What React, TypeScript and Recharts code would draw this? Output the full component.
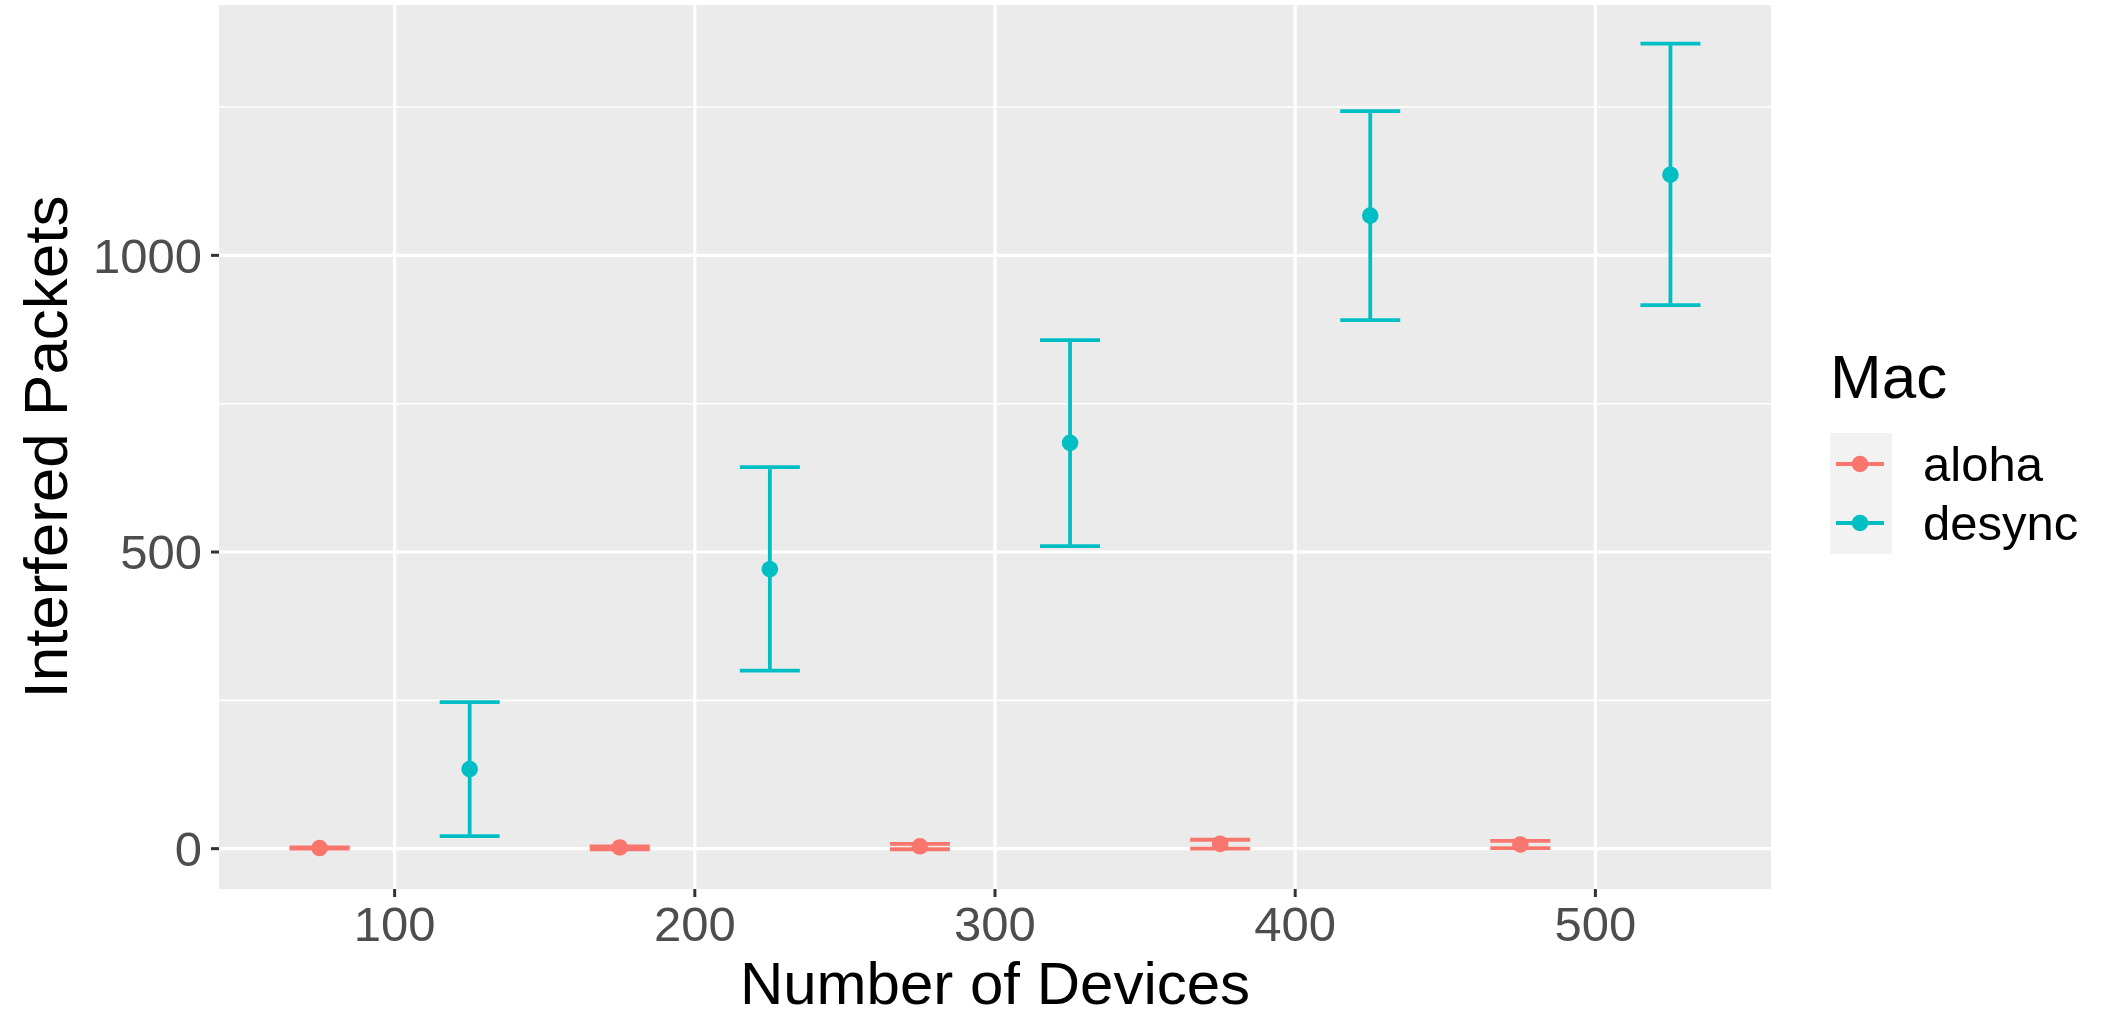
import React from 'react'
import { ComposedChart, Scatter, ErrorBar, XAxis, YAxis, CartesianGrid, Legend } from 'recharts'

const FONT = '"Liberation Sans", Arial, Helvetica, sans-serif'

// values
const alohaDevices = [75, 175, 275, 375, 475]
const alohaMean = [1, 2, 4, 8, 7]
const alohaLow = [0, -1, -1, 0, 1]
const alohaHigh = [2, 4, 8, 15, 13]

const desyncDevices = [125, 225, 325, 425, 525]
const desyncMean = [134, 471, 684, 1067, 1136]
const desyncLow = [21, 300, 510, 891, 916]
const desyncHigh = [247, 643, 857, 1243, 1357]

const xTicks = [100, 200, 300, 400, 500]
const xMinor = [150, 250, 350, 450]
const yTicks = [0, 500, 1000]
const yMinor = [250, 750, 1250]

const ALOHA = '#F8766D'
const DESYNC = '#00BFC4'

function buildRows(xs: number[], mean: number[], low: number[], high: number[]) {
    return xs.map((x, i) => ({ x, y: mean[i], err: [mean[i] - low[i], high[i] - mean[i]] }))
}

const alohaData = buildRows(alohaDevices, alohaMean, alohaLow, alohaHigh)
const desyncData = buildRows(desyncDevices, desyncMean, desyncLow, desyncHigh)

const Dot = (props: any) => <circle cx={props.cx} cy={props.cy} r={8.3} fill={props.fill}/>

function MacLegend(props: any) {
    const items = props.payload || []
    return (
        <svg width={288} height={260} style={{ display: 'block' }}>
            <text x={10} y={68} fontSize={62} fontFamily={FONT} fill="#000">Mac</text>
            <rect x={10} y={103} width={62} height={121} fill="#F2F2F2"/>
            {items.map((it: any, i: number) => {
                const cy = 134 + i * 59
                return (
                    <g key={it.value}>
                        <line x1={16} x2={64} y1={cy} y2={cy} stroke={it.color} strokeWidth={3.8}/>
                        <circle cx={40} cy={cy} r={8.3} fill={it.color}/>
                        <text x={103} y={cy + 17} fontSize={49} fontFamily={FONT} fill="#000">{it.value}</text>
                    </g>
                )
            })}
        </svg>
    )
}

const tickStyle = { fill: '#4D4D4D', fontSize: 49, fontFamily: FONT }

export default function App() {
    return (
        <div style={{ position: 'absolute', left: 0, top: 0 }}>
            <ComposedChart width={2108} height={1017} margin={{ top: 5, right: 337, bottom: 0, left: 0 }}>
                <CartesianGrid fill="#EBEBEB" stroke="#FFFFFF" strokeWidth={1.6}
                    horizontalValues={yMinor} verticalValues={xMinor} vertical={false}/>
                <CartesianGrid fill="none" stroke="#FFFFFF" strokeWidth={3.2}
                    horizontalValues={yTicks} verticalValues={xTicks}/>
                <XAxis type="number" dataKey="x" domain={[41.5, 558.5]} ticks={xTicks} allowDataOverflow
                    height={128} axisLine={false} tickSize={8} tickMargin={9}
                    tickLine={{ stroke: '#333333', strokeWidth: 3 }} tick={tickStyle}
                    label={(p: any) => (
                        <text x={p.viewBox.x + p.viewBox.width / 2} y={1004} textAnchor="middle"
                            fontSize={60} fontFamily={FONT} fill="#000">Number of Devices</text>
                    )}/>
                <YAxis type="number" dataKey="y" domain={[-68, 1422]} ticks={yTicks} allowDataOverflow
                    width={219} axisLine={false} tickSize={8} tickMargin={9}
                    tickLine={{ stroke: '#333333', strokeWidth: 3 }} tick={tickStyle}
                    label={(p: any) => {
                        const cy = p.viewBox.y + p.viewBox.height / 2
                        return (
                            <text x={67} y={cy} transform={`rotate(-90, 67, ${cy})`} textAnchor="middle"
                                fontSize={62} fontFamily={FONT} fill="#000">Interfered Packets</text>
                        )
                    }}/>
                <Legend layout="horizontal" align="center" verticalAlign="middle"
                    wrapperStyle={{ left: 1820, top: 330, width: 288, height: 260 }}
                    content={<MacLegend/>}/>
                <Scatter name="aloha" data={alohaData} fill={ALOHA} shape={Dot} isAnimationActive={false}>
                    <ErrorBar dataKey="err" direction="y" width={30} stroke={ALOHA} strokeWidth={3.8}
                        isAnimationActive={false}/>
                </Scatter>
                <Scatter name="desync" data={desyncData} fill={DESYNC} shape={Dot} isAnimationActive={false}>
                    <ErrorBar dataKey="err" direction="y" width={30} stroke={DESYNC} strokeWidth={3.8}
                        isAnimationActive={false}/>
                </Scatter>
            </ComposedChart>
        </div>
    )
}
